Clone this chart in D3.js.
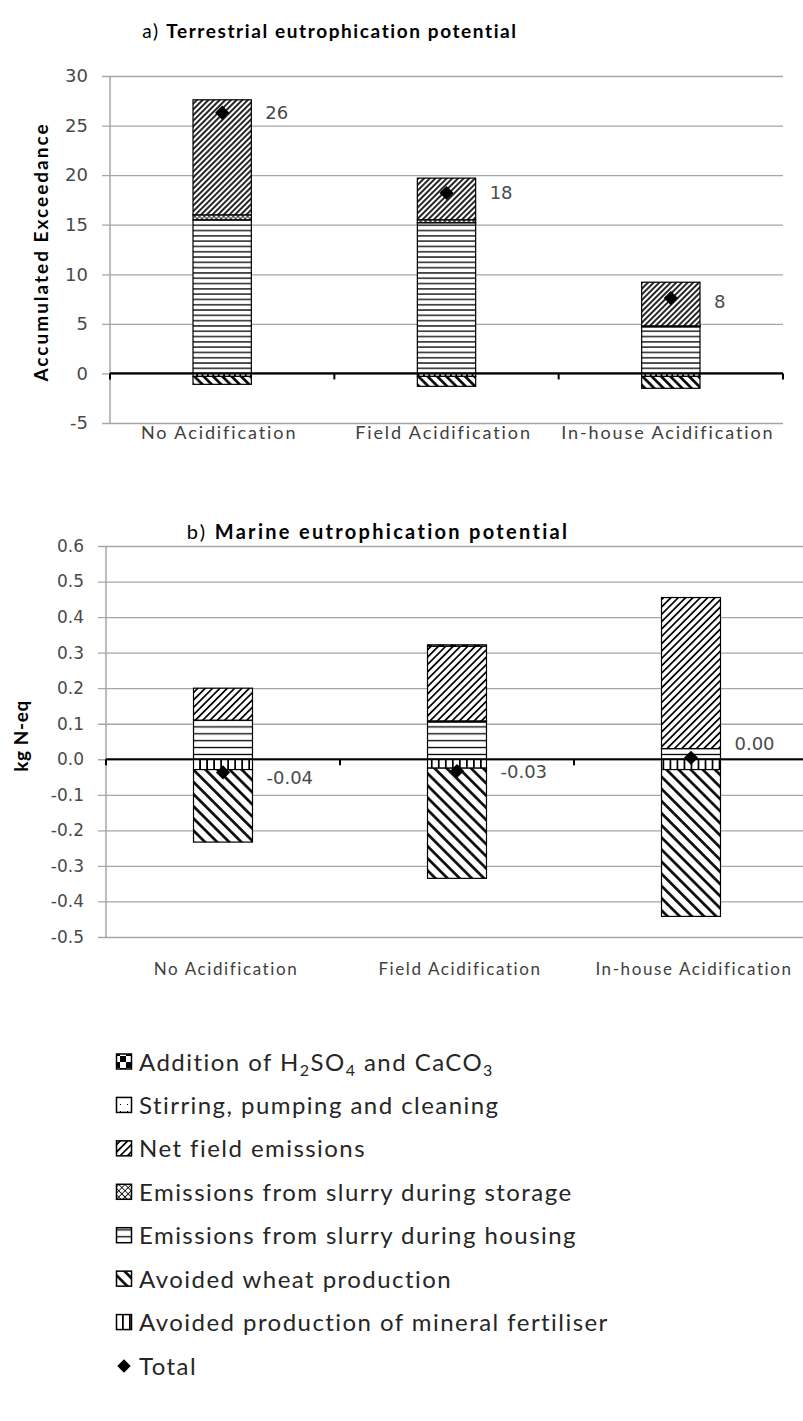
<!DOCTYPE html>
<html>
<head>
<meta charset="utf-8">
<script src="https://cdn.jsdelivr.net/npm/d3@7"></script>
<style>
  body { margin: 0; background: #fff; }
  svg { display: block; }
</style>
</head>
<body>
<svg id="fig" width="803" height="1421"></svg>
<script>
// ---- Data ----
const categories = ["No Acidification", "Field Acidification", "In-house Acidification"];

// a) Terrestrial eutrophication potential (Accumulated Exceedance)
const terrAddition   = [0, 0, 0];
const terrStirring   = [0, 0, 0];
const terrHousing    = [15.5, 15.2, 4.7];
const terrStorage    = [0.5, 0.3, 0.1];
const terrNetField   = [11.6, 4.2, 4.4];
const terrFertiliser = [-0.3, -0.3, -0.3];
const terrWheat      = [-0.8, -1.0, -1.2];
const terrTotal      = [26.3, 18.2, 7.6];
const terrTicks      = [-5, 0, 5, 10, 15, 20, 25, 30];

// b) Marine eutrophication potential (kg N-eq)
const marAddition   = [0, 0.004, 0];
const marStirring   = [0, 0, 0];
const marHousing    = [0.11, 0.105, 0.03];
const marStorage    = [0, 0.003, 0];
const marNetField   = [0.09, 0.21, 0.425];
const marFertiliser = [-0.029, -0.025, -0.029];
const marWheat      = [-0.204, -0.31, -0.413];
const marTotal      = [-0.037, -0.033, 0.004];
const marTicks      = [-0.5, -0.4, -0.3, -0.2, -0.1, 0, 0.1, 0.2, 0.3, 0.4, 0.5, 0.6];

const legendLabels = [
  "Addition of H2SO4 and CaCO3",
  "Stirring, pumping and cleaning",
  "Net field emissions",
  "Emissions from slurry during storage",
  "Emissions from slurry during housing",
  "Avoided wheat production",
  "Avoided production of mineral fertiliser",
  "Total"
];

// stacking order: negatives grow downward from zero in this order, positives upward
const seriesKeys = ["fertiliser", "wheat", "housing", "storage", "netField", "stirring", "addition"];

// ---- Drawing ----
const svg = d3.select("#fig");
svg.append("rect").attr("width", 803).attr("height", 1421).attr("fill", "#fff");
const defs = svg.append("defs");

const NUM_FONT = "'DejaVu Sans', Verdana, sans-serif";
const TXT_FONT = "Lato, 'Open Sans', sans-serif";
// plain hyphen for negative numbers
const locale = d3.formatLocale({ decimal: ".", thousands: ",", grouping: [3], currency: ["", ""], minus: "-" });

function makePatterns(prefix, k) {
  const pat = (id, w, h, rot) => {
    const p = defs.append("pattern")
      .attr("id", prefix + id)
      .attr("patternUnits", "userSpaceOnUse")
      .attr("width", w).attr("height", h);
    if (rot) p.attr("patternTransform", `rotate(${rot})`);
    p.append("rect").attr("width", w).attr("height", h).attr("fill", "#fff");
    return p;
  };
  // net field emissions: dense forward diagonals
  let s = 4.0 * k;
  pat("netField", s, s, 45).append("line")
    .attr("x1", s / 2).attr("x2", s / 2).attr("y1", 0).attr("y2", s)
    .attr("stroke", "#000").attr("stroke-width", 1.7);
  // housing: horizontal lines
  s = 5.3 * k;
  pat("housing", 8, s).append("line")
    .attr("x1", 0).attr("x2", 8).attr("y1", s / 2).attr("y2", s / 2)
    .attr("stroke", "#000").attr("stroke-width", 1.3);
  // avoided wheat: wide back diagonals
  s = 6.6 * k;
  pat("wheat", s, s, -45).append("line")
    .attr("x1", s / 2).attr("x2", s / 2).attr("y1", 0).attr("y2", s)
    .attr("stroke", "#000").attr("stroke-width", 2.6);
  // avoided mineral fertiliser: vertical lines
  s = 5.4 * k;
  pat("fertiliser", s, 8).append("line")
    .attr("x1", s / 2).attr("x2", s / 2).attr("y1", 0).attr("y2", 8)
    .attr("stroke", "#000").attr("stroke-width", 1.8);
  // storage: small diagonal crosshatch
  s = 3.4 * k;
  const st = pat("storage", s, s, 45);
  st.append("line").attr("x1", 0).attr("x2", s).attr("y1", s / 2).attr("y2", s / 2)
    .attr("stroke", "#000").attr("stroke-width", 0.8);
  st.append("line").attr("x1", s / 2).attr("x2", s / 2).attr("y1", 0).attr("y2", s)
    .attr("stroke", "#000").attr("stroke-width", 0.8);
  // addition: coarse checkerboard
  s = 12;
  const ad = pat("addition", s, s);
  ad.append("rect").attr("x", 0).attr("y", 0).attr("width", s / 2).attr("height", s / 2).attr("fill", "#000");
  ad.append("rect").attr("x", s / 2).attr("y", s / 2).attr("width", s / 2).attr("height", s / 2).attr("fill", "#000");
  // stirring: white with sparse dots
  s = 7;
  pat("stirring", s, s).append("rect")
    .attr("x", 1).attr("y", 5).attr("width", 1).attr("height", 1).attr("fill", "#000");
}
makePatterns("pa-", 1);
makePatterns("pb-", 1.3);

function buildRows(src) {
  return categories.map((c, i) => {
    const row = { category: c };
    seriesKeys.forEach(k => row[k] = src[k][i]);
    return row;
  });
}

function drawChart(cfg) {
  const g = svg.append("g");
  const y = d3.scaleLinear().domain(cfg.domain).range(cfg.yRange);
  const x = d3.scaleBand().domain(categories).range(cfg.xRange)
    .paddingInner(cfg.pad).paddingOuter(cfg.pad / 2);

  // horizontal gridlines + y ticks
  const yAxis = d3.axisLeft(y).tickValues(cfg.ticks).tickFormat(cfg.tickFmt)
    .tickSize(cfg.xRange[1] - cfg.xRange[0] + 8).tickPadding(14);
  const ya = g.append("g")
    .attr("transform", `translate(${cfg.xRange[1]},0)`)
    .call(yAxis);
  ya.select(".domain").remove();
  ya.selectAll(".tick line").attr("stroke", "#a6a6a6").attr("stroke-width", 1.3);
  ya.selectAll(".tick text")
    .attr("font-family", NUM_FONT).attr("font-size", cfg.tickSize)
    .attr("fill", "#4a4a4a");

  // vertical axis line
  g.append("line")
    .attr("x1", cfg.xRange[0]).attr("x2", cfg.xRange[0])
    .attr("y1", cfg.yRange[1]).attr("y2", cfg.yRange[0])
    .attr("stroke", "#a6a6a6").attr("stroke-width", 1.5);

  // stacked bars
  const rows = buildRows(cfg.series);
  const stacked = d3.stack().keys(seriesKeys).offset(d3.stackOffsetDiverging)(rows);
  stacked.forEach(layer => {
    g.append("g").selectAll("rect")
      .data(layer.filter(d => d[1] !== d[0]))
      .join("rect")
      .attr("x", d => x(d.data.category))
      .attr("width", x.bandwidth())
      .attr("y", d => y(Math.max(d[0], d[1])))
      .attr("height", d => Math.abs(y(d[0]) - y(d[1])))
      .attr("fill", `url(#${cfg.prefix}${layer.key})`)
      .attr("stroke", "#000").attr("stroke-width", 1.2);
  });

  // zero line and category separators
  const y0 = y(0);
  g.append("line")
    .attr("x1", cfg.xRange[0]).attr("x2", cfg.xRange[1])
    .attr("y1", y0).attr("y2", y0)
    .attr("stroke", "#000").attr("stroke-width", 2.2);
  const bounds = d3.range(categories.length + 1).map(i => cfg.xRange[0] + i * x.step());
  g.selectAll(".sep").data(bounds).join("line")
    .attr("x1", d => d).attr("x2", d => d)
    .attr("y1", y0).attr("y2", y0 + 6)
    .attr("stroke", "#000").attr("stroke-width", 2);

  // totals
  const diamond = d3.symbol(d3.symbolSquare, 100);
  g.selectAll(".total").data(cfg.total).join("path")
    .attr("d", diamond)
    .attr("transform", (d, i) => `translate(${x(categories[i]) + x.bandwidth() / 2},${y(d)}) rotate(45)`)
    .attr("fill", "#000");
  g.selectAll(".totlab").data(cfg.total).join("text")
    .attr("x", (d, i) => x(categories[i]) + x.bandwidth() + 14)
    .attr("y", (d, i) => y(d) + cfg.labelNudge[i])
    .attr("dy", "0.36em")
    .attr("font-family", NUM_FONT).attr("font-size", 18)
    .attr("fill", "#4a4a4a")
    .text(d => cfg.totalFmt(d));

  // category labels
  g.selectAll(".cat").data(categories).join("text")
    .attr("x", d => x(d) + x.bandwidth() / 2 + cfg.catShift)
    .attr("y", cfg.catY)
    .attr("text-anchor", "middle")
    .attr("font-family", TXT_FONT).attr("font-size", cfg.catSize)
    .attr("letter-spacing", cfg.catSpacing)
    .attr("fill", "#404040")
    .text(d => d);

  // title
  const t = g.append("text")
    .attr("x", cfg.titleX).attr("y", cfg.titleY)
    .attr("text-anchor", "middle")
    .attr("font-family", TXT_FONT).attr("font-size", cfg.titleSize)
    .attr("letter-spacing", cfg.titleSpacing).attr("fill", "#000");
  t.append("tspan").text(cfg.titlePrefix);
  t.append("tspan").attr("font-weight", "bold").text(cfg.title);

  // y-axis title
  g.append("text")
    .attr("transform", `translate(${cfg.yTitleX},${cfg.yTitleY}) rotate(-90)`)
    .attr("text-anchor", "middle")
    .attr("font-family", TXT_FONT).attr("font-size", 19).attr("font-weight", "bold")
    .attr("letter-spacing", cfg.yTitleSpacing)
    .attr("fill", "#000")
    .text(cfg.yTitle);
}

drawChart({
  prefix: "pa-",
  domain: [-5, 30], yRange: [423, 76], xRange: [110, 783], pad: 0.74,
  ticks: terrTicks, tickFmt: locale.format("d"), tickSize: 18,
  series: { addition: terrAddition, stirring: terrStirring, housing: terrHousing, storage: terrStorage,
            netField: terrNetField, fertiliser: terrFertiliser, wheat: terrWheat },
  total: terrTotal, totalFmt: locale.format(".0f"), labelNudge: [0, 0, 3],
  catY: 439, catShift: -3, catSize: 18, catSpacing: 1.9,
  titleX: 330, titleY: 38, titleSize: 19, titleSpacing: 1.6,
  titlePrefix: "a) ", title: "Terrestrial eutrophication potential",
  yTitle: "Accumulated Exceedance", yTitleX: 48, yTitleY: 252, yTitleSpacing: 2
});

drawChart({
  prefix: "pb-",
  domain: [-0.5, 0.6], yRange: [937, 546], xRange: [106, 808], pad: 0.748,
  ticks: marTicks, tickFmt: locale.format(".1f"), tickSize: 17,
  series: { addition: marAddition, stirring: marStirring, housing: marHousing, storage: marStorage,
            netField: marNetField, fertiliser: marFertiliser, wheat: marWheat },
  total: marTotal, totalFmt: locale.format(".2f"), labelNudge: [5, 1, -14],
  catY: 975, catShift: 3, catSize: 17, catSpacing: 1.6,
  titleX: 378, titleY: 539, titleSize: 20, titleSpacing: 2.3,
  titlePrefix: "b) ", title: "Marine eutrophication potential",
  yTitle: "kg N-eq", yTitleX: 28, yTitleY: 736, yTitleSpacing: 0.6
});

// ---- Legend ----
const legendKeys = ["addition", "stirring", "netField", "storage", "housing", "wheat", "fertiliser", "total"];
const legendY = d3.scalePoint().domain(legendKeys).range([1062, 1366]);
const lg = svg.append("g");
legendKeys.forEach((k, i) => {
  const cy = legendY(k);
  if (k === "total") {
    lg.append("path").attr("d", d3.symbol(d3.symbolSquare, 90))
      .attr("transform", `translate(${124},${cy}) rotate(45)`).attr("fill", "#000");
  } else {
    lg.append("rect").attr("x", 116.5).attr("y", cy - 8).attr("width", 15).attr("height", 15)
      .attr("fill", `url(#pb-${k})`).attr("stroke", "#000").attr("stroke-width", 1.5);
  }
  const txt = lg.append("text")
    .attr("x", 139).attr("y", cy).attr("dy", "0.36em")
    .attr("font-family", TXT_FONT).attr("font-size", 24)
    .attr("letter-spacing", 1.45).attr("fill", "#262626");
  // split chemical formulae so their digits are set as subscripts
  const pieces = legendLabels[i].split(/(\d)/).filter(s => s.length);
  let lowered = false;
  pieces.forEach(s => {
    const isDigit = /^\d$/.test(s);
    const ts = txt.append("tspan").text(s);
    if (isDigit) {
      ts.attr("font-size", 16);
      if (!lowered) { ts.attr("dy", 5); lowered = true; }
    } else if (lowered) {
      ts.attr("dy", -5); lowered = false;
    }
  });
});
</script>
</body>
</html>
